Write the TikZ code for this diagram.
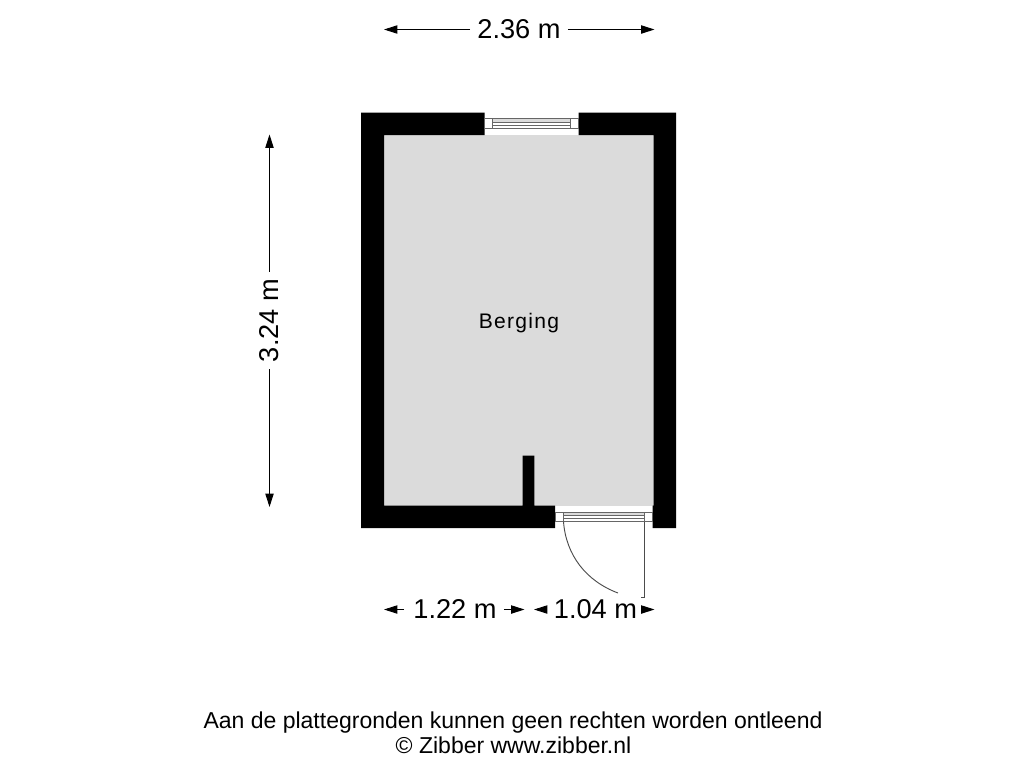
\documentclass[tikz,border=0pt]{standalone}
\usepackage{fontspec}
\setmainfont{Liberation Sans}
\usetikzlibrary{arrows.meta}
\tikzset{
 wall/.style={fill=black,draw=none},
 dimtext/.style={inner sep=0pt,anchor=base,font=\fontsize{20.4}{22}\selectfont,text=black},
 dimline/.style={draw=black,line width=0.7pt,-{Triangle[length=10pt,width=6.2pt]}},
 frame/.style={draw=black!60,line width=0.75pt,fill=white},
 leaf/.style={draw=black!70,line width=0.7pt},
 foot/.style={inner sep=0pt,anchor=base,font=\fontsize{17.25}{19}\selectfont,text=black},
}
\begin{document}
\begin{tikzpicture}[x=0.75pt,y=-0.75pt]
\useasboundingbox (0,0) rectangle (1024,768);
% floor
\fill[black!14] (384,135) rectangle (654,505.5);
% walls
\path[wall] (361,112.5) -- (484.5,112.5) -- (484.5,135) -- (384,135) -- (384,505.5) -- (522.7,505.5) -- (522.7,455.7) -- (534.3,455.7) -- (534.3,505.5) -- (555,505.5) -- (555,528) -- (361,528) -- cycle;
\path[wall] (578.5,112.5) -- (676,112.5) -- (676,528) -- (652.7,528) -- (652.7,505.5) -- (653.7,505.5) -- (653.7,135) -- (578.5,135) -- cycle;
% top window
\draw[frame] (484.5,118.7) rectangle (578.5,128.7);
\fill[black!14] (492.5,119.2) rectangle (570.5,121.8);
\draw[frame,fill=none] (492.5,118.7) -- (492.5,128.7) (570.5,118.7) -- (570.5,128.7);
\draw[draw=black!60,line width=0.75pt] (492.5,122) -- (570.5,122) (492.5,125.3) -- (570.5,125.3);
% door
\draw[frame] (555,512.7) rectangle (652.7,521.7);
\fill[black!14] (563.5,513.2) rectangle (644.3,515.6);
\draw[frame,fill=none] (563.5,512.7) -- (563.5,521.7) (644.3,512.7) -- (644.3,521.7);
\draw[draw=black!60,line width=0.75pt] (563.5,515.8) -- (644.3,515.8) (563.5,518.7) -- (644.3,518.7);
\draw[leaf] (644.3,521.7) -- (644.3,597.7) -- (641,597.7);
\draw[leaf] (563.5,521.7) .. controls (566,555) and (586,581) .. (618,593);
% label
\node[inner sep=0pt,anchor=base,font=\fontsize{15.8}{18}\selectfont] (room) at (519,328) {\addfontfeature{LetterSpace=6}Berging};
% top dimension
\node[dimtext] (d1) at (519,38) {2.36 m};
\coordinate (d1l) at (384,29.5);
\coordinate (d1r) at (654.5,29.5);
\draw[dimline] (d1.west |- d1l) ++(-7,0) -- (d1l);
\draw[dimline] (d1.east |- d1r) ++(7,0) -- (d1r);
% left dimension
\node[dimtext,rotate=90] (d2) at (278.5,320.5) {3.24 m};
\coordinate (d2t) at (269.5,134.5);
\coordinate (d2b) at (269.5,507);
\draw[dimline] (d2.east -| d2t) ++(0,-7) -- (d2t);
\draw[dimline] (d2.west -| d2b) ++(0,7) -- (d2b);
% bottom dimensions
\node[dimtext] (d3) at (455,618) {1.22 m};
\coordinate (d3l) at (384,609.5);
\coordinate (d3r) at (524.5,609.5);
\draw[dimline] (d3.west |- d3l) ++(-9,0) -- (d3l);
\draw[dimline] (d3.east |- d3r) ++(7,0) -- (d3r);
\node[dimtext] (d4) at (595.5,618) {1.04 m};
\coordinate (d4l) at (534,609.5);
\coordinate (d4r) at (654.5,609.5);
\draw[dimline] (d4.west |- d4l) ++(-8,0) -- (d4l);
\draw[dimline] (d4.east |- d4r) ++(6,0) -- (d4r);
% footer
\node[foot] (f1) at (513,728) {Aan de plattegronden kunnen geen rechten worden ontleend};
\node[foot] (f2) at (513.5,753) {© Zibber www.zibber.nl};
\end{tikzpicture}
\end{document}
